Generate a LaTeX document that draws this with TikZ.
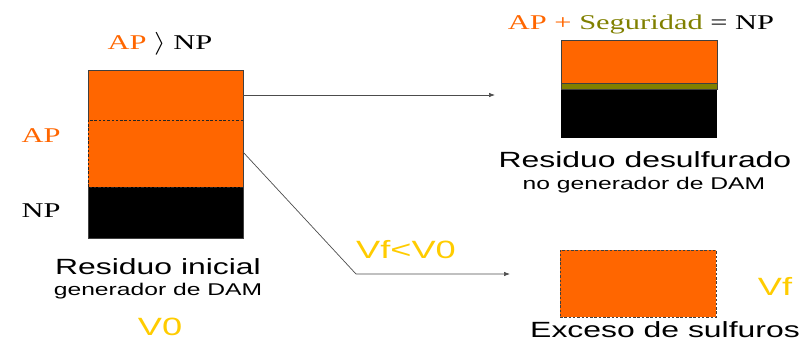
\documentclass[tikz,border=0pt]{standalone}
\usepackage{fontspec}
\usepackage{graphicx}
\setmainfont{Liberation Serif}[FakeStretch=1.45]
\newfontfamily\wsans{Liberation Sans}[FakeStretch=1.45]
\usetikzlibrary{arrows.meta,calc}
\definecolor{acid}{HTML}{FF6600}
\definecolor{gold}{HTML}{FFCC00}
\definecolor{olivo}{HTML}{808000}
\begin{document}
\begin{tikzpicture}[x=1pt,y=-1pt,
  block/.style={inner sep=0pt, outer sep=0pt, anchor=north west},
  lbl/.style={inner sep=0pt, anchor=base},
  big/.style={lbl, font=\wsans\fontsize{22}{24}\selectfont},
  small/.style={lbl, font=\wsans\fontsize{17}{19}\selectfont},
  vol/.style={lbl, font=\wsans\fontsize{25}{27}\selectfont, text=gold},
  eq/.style={lbl, font=\fontsize{21}{24}\selectfont},
  edge/.style={draw=black!75, line width=0.6pt},
  dashedge/.style={draw=black!85, line width=0.8pt, dash pattern=on 2.5pt off 1.8pt},
  link/.style={draw=black!70, line width=0.7pt, -{Latex[length=6pt,width=4.5pt]}}
]
\useasboundingbox (0,0) rectangle (806,343);

% initial residue: acid-producing part over neutralising part
\node[block, fill=acid, minimum width=155pt, minimum height=117pt] (ap) at (88,70) {};
\node[block, fill=black, minimum width=155pt, minimum height=51pt] (np) at (88,187) {};
\coordinate (cut) at ($(ap.north west)+(0,50)$);
\draw[edge] (cut) -- (ap.north west) -- (ap.north east) -- (np.south east)
  -- (np.south west) -- (np.north west);
\draw[dashedge] (cut -| ap.east) -- (cut) -- (ap.south west) -- (ap.south east);

% desulfurised residue
\node[block, fill=acid, minimum width=156pt, minimum height=43pt] (des) at (561,40) {};
\node[block, fill=olivo, minimum width=156pt, minimum height=6pt] (seg) at (561,83) {};
\node[block, fill=black, minimum width=156pt, minimum height=49pt] (npd) at (561,89) {};
\draw[edge] (des.north west) rectangle (seg.south east);
\draw[edge] (des.south west) -- (des.south east);

% excess sulphides
\node[block, fill=acid, draw=black!75, line width=0.7pt, dash pattern=on 2.5pt off 1.8pt,
  minimum width=156pt, minimum height=67pt] (exc) at (560,250) {};

% connectors
\coordinate (tip1) at (495,95);
\coordinate (bend) at (356,274);
\coordinate (tip2) at (510,274);
\draw[link] ($(ap.north east)+(0,25)$) -- (tip1);
\draw[link] ($(ap.north east)+(0,82)$) -- (bend) -- (tip2);

% labels
\node[eq] (cmp) at (160,49) {\textcolor{acid}{AP} \scalebox{1.45}[1.1]{$\rangle$} NP};
\node[eq, text=acid] (lap) at (41,142) {AP};
\node[eq] (lnp) at (41,217) {NP};
\node[big] (t1) at (158,274) {Residuo inicial};
\node[small] (s1) at (158,295) {generador de DAM};
\node[vol] (v0) at (160,335) {V0};

\node[eq] (bal) at (641,29) {\textcolor{acid}{AP + }\textcolor{olivo}{Seguridad} = NP};
\node[big] (t2) at (645,167) {Residuo desulfurado};
\node[small] (s2) at (644,189) {no generador de DAM};

\node[vol] (cond) at (406,258) {Vf<V0};
\node[vol] (vf) at (775,295) {Vf};
\node[big] (t3) at (665,337) {Exceso de sulfuros};
\end{tikzpicture}
\end{document}
